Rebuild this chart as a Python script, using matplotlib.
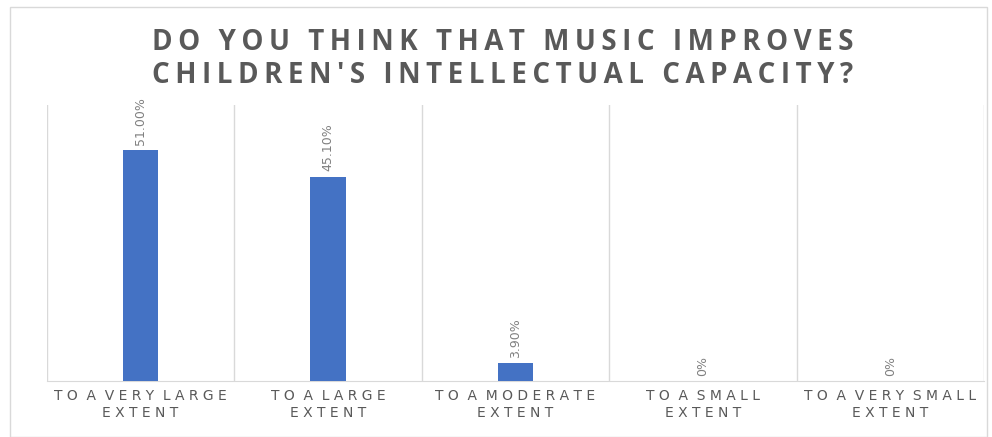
import matplotlib
matplotlib.use("Agg")
import matplotlib.pyplot as plt
from matplotlib.patches import Rectangle

categories = ["TO A VERY LARGE\nEXTENT", "TO A LARGE\nEXTENT", "TO A MODERATE\nEXTENT",
              "TO A SMALL\nEXTENT", "TO A VERY SMALL\nEXTENT"]
values = [51.0, 45.1, 3.9, 0.0, 0.0]
value_labels = ["51.00%", "45.10%", "3.90%", "0%", "0%"]
title = "DO YOU THINK THAT MUSIC IMPROVES\nCHILDREN'S INTELLECTUAL CAPACITY?"


def spaced(text: str, gap: str = " ", word_gap: str = "  ") -> str:
    # imitate Excel's wide character spacing
    lines = []
    for line in text.split("\n"):
        lines.append(word_gap.join(gap.join(word) for word in line.split(" ")))
    return "\n".join(lines)


fig = plt.figure(figsize=(9.92, 4.37), dpi=100)
fig.patches.append(Rectangle((0.010, 0.0), 0.985, 0.984, transform=fig.transFigure,
                             fill=False, edgecolor="#d9d9d9", linewidth=1.0))

ax = fig.add_axes([0.047, 0.128, 0.945, 0.632])
x = list(range(len(values)))
ax.bar(x, values, width=0.19, color="#4472c4", zorder=3)
ax.set_xlim(-0.5, len(values) - 0.5)
ax.set_ylim(0, 61)

for i in range(len(values) + 1):
    ax.axvline(i - 0.5, color="#d9d9d9", linewidth=1.0, zorder=1)

for i, (v, lab) in enumerate(zip(values, value_labels)):
    ax.text(i, v + 1.2, lab, rotation=90, ha="center", va="bottom",
            fontsize=9, color="#808080", family="Liberation Sans Narrow")

ax.set_xticks(x)
ax.set_xticklabels([spaced(c) for c in categories], fontsize=10, color="#595959",
                   linespacing=1.25)
ax.tick_params(axis="x", length=0, pad=6)
ax.set_yticks([])
for side in ["top", "right", "left"]:
    ax.spines[side].set_visible(False)
ax.spines["bottom"].set_color("#d9d9d9")

thin = "\u2009"
fig.text(0.507, 0.795, spaced(title, thin, thin + " " + thin), ha="center", va="bottom",
         fontsize=20, fontweight="bold", color="#595959",
         family=["Open Sans", "DejaVu Sans"], linespacing=1.15)

fig.savefig("out.png", dpi=100)
